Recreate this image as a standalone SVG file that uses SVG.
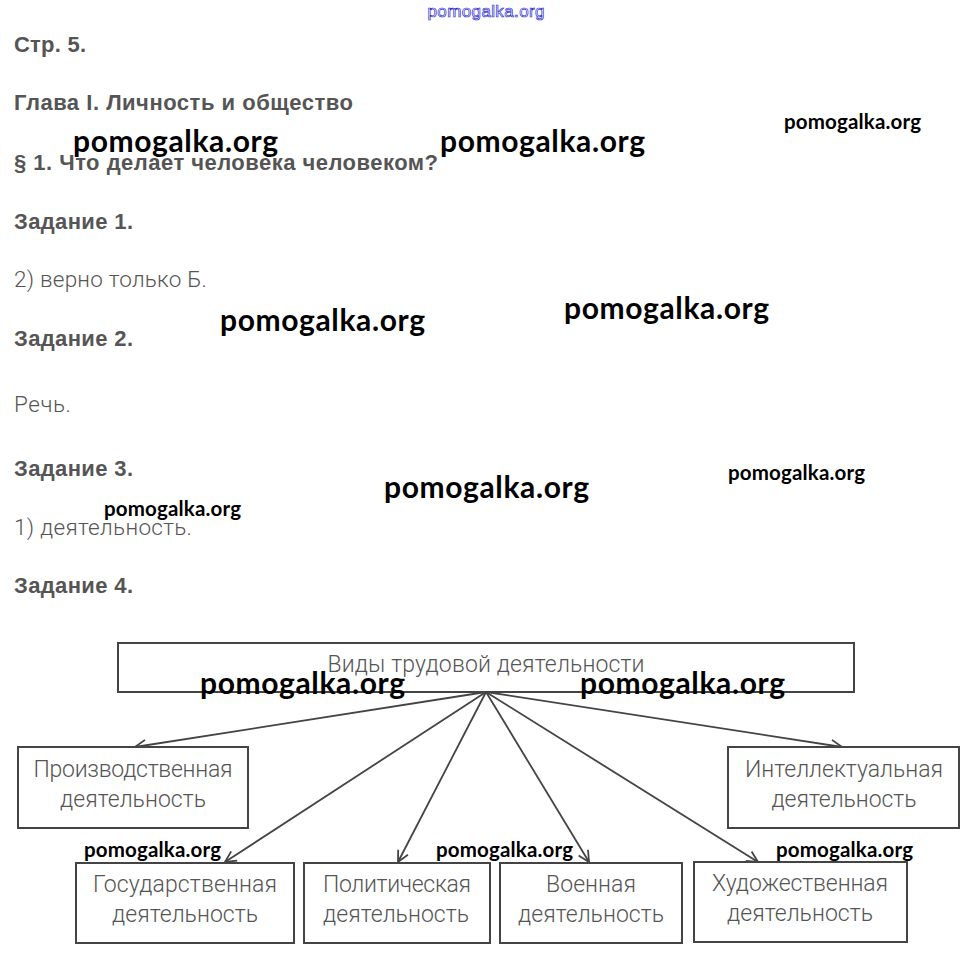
<svg xmlns="http://www.w3.org/2000/svg" width="971" height="960" viewBox="0 0 971 960">
<defs>
<marker id="arr" markerWidth="14" markerHeight="14" refX="12" refY="7" orient="auto" markerUnits="userSpaceOnUse">
<path d="M1,1.5 L12,7 L1,12.5" fill="none" stroke="#444" stroke-width="1.8"/>
</marker>
</defs>
<style>
.h{font-family:"Liberation Sans",Arial,sans-serif;font-weight:bold;font-size:22px;fill:#555}
.t{font-family:Roboto,"Liberation Sans",sans-serif;font-weight:300;font-size:22.5px;fill:#555}
.box{fill:#fff;stroke:#444;stroke-width:2}
.lbl{font-family:Roboto,"Liberation Sans",sans-serif;font-weight:300;font-size:23px;fill:#555;text-anchor:middle}
.wm{font-family:Lato,"Open Sans",sans-serif;font-weight:bold;fill:#000}
.big{font-size:30px}
.sm{font-size:20.5px}
.con{stroke:#444;stroke-width:1.8;fill:none;marker-end:url(#arr)}
</style>
<rect width="971" height="960" fill="#fff"/>
<text x="486" y="17" text-anchor="middle" textLength="117" style="font-family:'Liberation Sans',sans-serif;font-size:17px;fill:#fff;stroke:#2a2ad0;stroke-width:0.7">pomogalka.org</text>
<g id="texts">
<text class="h" x="14" y="52" textLength="72">Стр. 5.</text>
<text class="h" x="14" y="110" textLength="339">Глава I. Личность и общество</text>
<text class="h" x="14" y="170" textLength="424">§ 1. Что делает человека человеком?</text>
<text class="h" x="14" y="229" textLength="119">Задание 1.</text>
<text class="t" x="14" y="287" textLength="193">2) верно только Б.</text>
<text class="h" x="14" y="346" textLength="119">Задание 2.</text>
<text class="t" x="14" y="412" textLength="57">Речь.</text>
<text class="h" x="14" y="476" textLength="119">Задание 3.</text>
<text class="t" x="14" y="535" textLength="178">1) деятельность.</text>
<text class="h" x="14" y="593" textLength="119">Задание 4.</text>
</g>
<g id="connectors">
<line class="con" x1="486" y1="692" x2="135" y2="747"/>
<line class="con" x1="486" y1="692" x2="225" y2="862"/>
<line class="con" x1="486" y1="692" x2="398" y2="862"/>
<line class="con" x1="486" y1="692" x2="589" y2="862"/>
<line class="con" x1="486" y1="692" x2="758" y2="862"/>
<line class="con" x1="486" y1="692" x2="842" y2="747"/>
</g>
<g id="node-root">
<rect class="box" x="118" y="643" width="736" height="49"/>
<text class="lbl" x="486" y="672" textLength="317">Виды трудовой деятельности</text>
</g>
<g id="node-prod">
<rect class="box" x="18" y="747" width="230" height="81"/>
<text class="lbl" x="133" y="777" textLength="199">Производственная</text>
<text class="lbl" x="133" y="807" textLength="146">деятельность</text>
</g>
<g id="node-intel">
<rect class="box" x="728" y="747" width="231" height="81"/>
<text class="lbl" x="844" y="777" textLength="198">Интеллектуальная</text>
<text class="lbl" x="844" y="807" textLength="145">деятельность</text>
</g>
<g id="node-gos">
<rect class="box" x="76" y="863" width="218" height="80"/>
<text class="lbl" x="185" y="892" textLength="184">Государственная</text>
<text class="lbl" x="185" y="922" textLength="146">деятельность</text>
</g>
<g id="node-pol">
<rect class="box" x="304" y="863" width="186" height="80"/>
<text class="lbl" x="397" y="892" textLength="148">Политическая</text>
<text class="lbl" x="396" y="922" textLength="146">деятельность</text>
</g>
<g id="node-voen">
<rect class="box" x="500" y="863" width="182" height="80"/>
<text class="lbl" x="591" y="892" textLength="90">Военная</text>
<text class="lbl" x="591" y="922" textLength="146">деятельность</text>
</g>
<g id="node-hud">
<rect class="box" x="694" y="862" width="213" height="80"/>
<text class="lbl" x="800" y="891" textLength="176">Художественная</text>
<text class="lbl" x="800" y="921" textLength="146">деятельность</text>
</g>
<g id="watermarks">
<text class="wm big" x="73" y="152" textLength="205">pomogalka.org</text>
<text class="wm big" x="440" y="152" textLength="205">pomogalka.org</text>
<text class="wm sm" x="784" y="129" textLength="137">pomogalka.org</text>
<text class="wm big" x="220" y="331" textLength="205">pomogalka.org</text>
<text class="wm big" x="564" y="319" textLength="205">pomogalka.org</text>
<text class="wm sm" x="728" y="480" textLength="137">pomogalka.org</text>
<text class="wm big" x="384" y="498" textLength="205">pomogalka.org</text>
<text class="wm sm" x="104" y="516" textLength="137">pomogalka.org</text>
<text class="wm big" x="200" y="694" textLength="205">pomogalka.org</text>
<text class="wm big" x="580" y="694" textLength="205">pomogalka.org</text>
<text class="wm sm" x="84" y="857" textLength="137">pomogalka.org</text>
<text class="wm sm" x="436" y="857" textLength="137">pomogalka.org</text>
<text class="wm sm" x="776" y="857" textLength="137">pomogalka.org</text>
</g>
</svg>
